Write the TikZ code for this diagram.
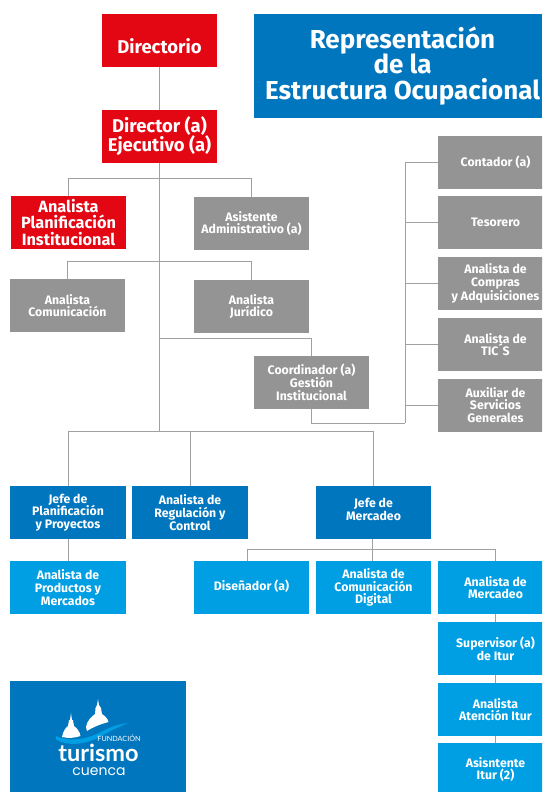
\documentclass[tikz,border=0pt]{standalone}
\usepackage{fontspec}
\setmainfont{Fira Sans}[BoldFont={Fira Sans Bold}]
\newfontfamily\logofont{Lato}
\newfontfamily\cuencafont{Poppins}
\definecolor{darkb}{HTML}{0076BE}
\definecolor{lightb}{HTML}{009FE3}
\definecolor{redb}{HTML}{E30613}
\definecolor{grayb}{HTML}{949494}
\definecolor{linec}{HTML}{A0A0A0}
\tikzset{
  orgbox/.style={minimum width=115pt,minimum height=53pt,inner sep=0pt,align=center,text=white,
    font=\bfseries\fontsize{12.3}{12.7}\selectfont},
  graybox/.style={orgbox,fill=grayb},
  lightbox/.style={orgbox,fill=lightb},
  darkbox/.style={orgbox,fill=darkb},
  redbox/.style={orgbox,fill=redb},
  conn/.style={draw=linec,line width=1pt},
}
\begin{document}
\begin{tikzpicture}[x=1pt,y=-1pt]
\useasboundingbox (0,0) rectangle (542,792);
\clip (0,0) rectangle (542,792);
% nodes
\node[redbox,font=\bfseries\fontsize{18.5}{19}\selectfont] (dirio) at (159.5,40.5) {\mbox{}\\[8pt]Directorio};
\node[redbox,font=\bfseries\fontsize{18.5}{19}\selectfont] (ejec) at (159.5,136.5) {Director (a)\\Ejecutivo (a)\\[-14pt]\mbox{}};
\node[darkbox,minimum width=288pt,minimum height=104pt,font=\bfseries\fontsize{26}{25.6}\selectfont] (title) at (398,66) {\hspace*{9pt}Representación\\\hspace*{9pt}de la\\\hspace*{9pt}Estructura Ocupacional};
\node[redbox,font=\bfseries\fontsize{16.3}{16.5}\selectfont] (plan) at (68.5,222.5) {Analista\\Planificación\\Institucional};
\node[graybox] (asis) at (251.5,223.5) {Asistente\\Administrativo (a)};
\node[graybox] (comu) at (67.5,305.5) {Analista\\Comunicación};
\node[graybox] (juri) at (251.5,306.5) {Analista\\Jurídico};
\node[graybox] (coor) at (311.5,382.5) {Coordinador (a)\\Gestión\\Institucional};
\node[graybox] (cont) at (495.5,162) {Contador (a)};
\node[graybox] (teso) at (495.5,222.5) {Tesorero};
\node[graybox] (comp) at (495.5,283.5) {Analista de\\Compras\\y Adquisiciones};
\node[graybox] (tics) at (495.5,344.5) {Analista de\\TIC´S};
\node[graybox] (auxi) at (495.5,405) {Auxiliar de\\Servicios\\Generales};
\node[darkbox,minimum width=116pt] (jpla) at (68,512.5) {Jefe de\\Planificación\\y Proyectos};
\node[darkbox,minimum width=116pt] (regu) at (190,512.5) {Analista de\\Regulación y\\Control};
\node[darkbox] (jmer) at (373.5,512.5) {Jefe de\\Mercadeo\\[-6.7pt]\mbox{}};
\node[lightbox,minimum width=116pt] (prod) at (68,587.5) {Analista de\\Productos y\\Mercados};
\node[lightbox] (dise) at (251.5,587.5) {Diseñador (a)\\[-8.7pt]\mbox{}};
\node[lightbox] (digi) at (373.5,587.5) {Analista de\\Comunicación\\Digital};
\node[lightbox] (amer) at (495.5,587.5) {Analista de\\Mercadeo};
\node[lightbox] (supe) at (495.5,648.5) {Supervisor (a)\\de Itur};
\node[lightbox] (aten) at (495.5,709.5) {Analista\\Atención Itur};
\node[lightbox] (asit) at (495.5,769.5) {Asisntente\\Itur (2)};
% trunk junctions
\coordinate (j1) at (159.5,178);
\coordinate (j2) at (159.5,261);
\coordinate (j3) at (159.5,338);
\coordinate (j4) at (159.5,431);
\coordinate (k1) at (405,423);
\coordinate (k2) at (372,549);
% connectors
\draw[conn] (dirio.south) -- (ejec.north);
\draw[conn] (ejec.south) -- (j4);
\draw[conn] (j1) -| (plan.north);
\draw[conn] (j1) -| (asis.north);
\draw[conn] (j2) -| (comu.north);
\draw[conn] (j2) -| (juri.north);
\draw[conn] (j3) -| (coor.north);
\draw[conn] (j4) -| (jpla.north);
\draw[conn] (j4) -| (regu.north);
\draw[conn] (j4) -| (jmer.north);
\draw[conn] (jpla.south) -- (prod.north);
\draw[conn] (coor.south) |- (k1);
\draw[conn] (k1) |- (cont.west);
\draw[conn] (k1 |- teso.west) -- (teso.west);
\draw[conn] (k1 |- comp.west) -- (comp.west);
\draw[conn] (k1 |- tics.west) -- (tics.west);
\draw[conn] (k1 |- auxi.west) -- (auxi.west);
\draw[conn] (jmer.south -| k2) -- (digi.north -| k2);
\draw[conn] (k2) -| (dise.north -| 247,0);
\draw[conn] (k2) -| (amer.north);
\draw[conn] (amer.south) -- (supe.north);
\draw[conn] (supe.south) -- (aten.north);
\draw[conn] (aten.south) -- (asit.north);
% logo
\fill[darkb] (10,681) rectangle (186,792);
\fill[lightb] (56,736) .. controls (72,743) and (90,738) .. (103,731) .. controls (112,726) and (120,724) .. (128,723) .. controls (118,727) and (110,731) .. (100,737) .. controls (86,744) and (68,747) .. (56,739.5) -- cycle;
\fill[white] (71,713) -- (72,720) -- (73,720) -- (74,726) .. controls (77,728) and (80,732) .. (80.5,736) .. controls (75,738) and (68,738.5) .. (62,737) .. controls (63,732) and (65,728) .. (68,726) -- (69,720) -- (70,720) -- cycle;
\fill[white] (98,699) -- (99,705) -- (101,708) -- (102,714) .. controls (105,716) and (108,719) .. (108.5,722) .. controls (101,724) and (93,727) .. (87,731) -- (86,727) .. controls (87,721) and (91,717) .. (95,714) -- (95.5,708) -- (97,705) -- cycle;
\node[inner sep=0pt,text=white,font=\logofont\fontsize{7.2}{7}\selectfont] (lf) at (119,738.5) {FUNDACIÓN};
\node[inner sep=0pt,text=white,font=\logofont\bfseries\fontsize{23.5}{26}\selectfont] (lt) at (98.5,752.5) {turismo};
\node[inner sep=0pt,text=white,font=\cuencafont\fontsize{14}{15}\selectfont] (lc) at (99,772) {cuenca};
\end{tikzpicture}
\end{document}
